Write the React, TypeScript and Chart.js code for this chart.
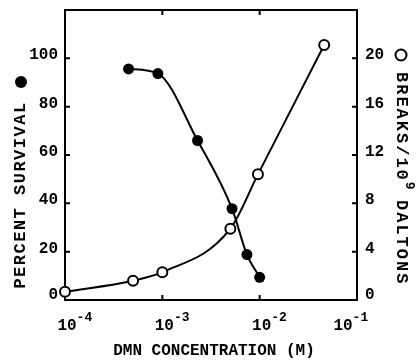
import { useEffect, useRef } from "react";
import { Chart, registerables } from "chart.js";

Chart.register(...registerables);

// DMN concentration (M) for the survival series (filled circles)
const concSurvival = [4.5e-4, 9.0e-4, 2.3e-3, 5.2e-3, 7.4e-3, 1.0e-2];
const survival = [95.6, 93.7, 66, 37.8, 18.8, 9.4];

// DMN concentration (M) for the breaks series (open circles)
const concBreaks = [1.0e-4, 5.0e-4, 1.0e-3, 5.0e-3, 9.6e-3, 4.6e-2];
const breaks = [0.68, 1.6, 2.3, 5.9, 10.4, 21.1];

const leftTicks = [0, 20, 40, 60, 80, 100];
const rightTicks = [0, 4, 8, 12, 16, 20];
const xTicks = [1e-4, 1e-3, 1e-2, 1e-1];
const xTickExponents = ["-4", "-3", "-2", "-1"];

const xTitle = "DMN CONCENTRATION (M)";
const leftTitle = "PERCENT SURVIVAL";
const rightTitleA = "BREAKS/10";
const rightTitleSup = "9";
const rightTitleB = "DALTONS";

const FONT = "'Liberation Mono', 'DejaVu Sans Mono', monospace";

export default function App() {
  const ref = useRef<HTMLCanvasElement>(null);

  useEffect(() => {
    const canvas = ref.current!;
    const paperAxes = {
      id: "paperAxes",
      beforeDatasetsDraw(chart: any) {
        const { ctx, chartArea: a } = chart;
        const sx = chart.scales.x;
        const yl = chart.scales.yL;
        const yr = chart.scales.yR;
        ctx.save();
        ctx.strokeStyle = "#000";
        ctx.fillStyle = "#000";
        ctx.lineWidth = 2;
        ctx.strokeRect(a.left, a.top, a.right - a.left, a.bottom - a.top);
        ctx.beginPath();
        leftTicks.forEach((v) => {
          if (v === 0) return;
          const py = yl.getPixelForValue(v);
          ctx.moveTo(a.left, py);
          ctx.lineTo(a.left + 5, py);
        });
        rightTicks.forEach((v) => {
          if (v === 0) return;
          const py = yr.getPixelForValue(v);
          ctx.moveTo(a.right, py);
          ctx.lineTo(a.right - 5, py);
        });
        xTicks.forEach((v, i) => {
          if (i === 0 || i === xTicks.length - 1) return;
          const px = sx.getPixelForValue(v);
          ctx.moveTo(px, a.bottom);
          ctx.lineTo(px, a.bottom - 5);
          ctx.moveTo(px, a.top);
          ctx.lineTo(px, a.top + 5);
        });
        ctx.stroke();

        // y tick labels
        ctx.font = `bold 16px ${FONT}`;
        ctx.textBaseline = "middle";
        ctx.textAlign = "right";
        leftTicks.forEach((v) => {
          const py = yl.getPixelForValue(v) - (v === 0 ? 5 : 3);
          ctx.fillText(String(v), a.left - 7, py);
        });
        ctx.textAlign = "left";
        rightTicks.forEach((v) => {
          const py = yr.getPixelForValue(v) - (v === 0 ? 5 : 3);
          ctx.fillText(String(v), a.right + 8, py);
        });

        // x tick labels 10^n
        xTicks.forEach((v, i) => {
          const px = sx.getPixelForValue(v);
          const cx = i === xTicks.length - 1 ? px - 14 : px + 2;
          ctx.font = `bold 16px ${FONT}`;
          ctx.textAlign = "center";
          ctx.textBaseline = "alphabetic";
          ctx.fillText("10", cx, a.bottom + 30);
          const w = ctx.measureText("10").width;
          ctx.font = `bold 13px ${FONT}`;
          ctx.textAlign = "left";
          ctx.fillText(xTickExponents[i], cx + w / 2, a.bottom + 21);
        });

        // x title
        ctx.font = `bold 16px ${FONT}`;
        ctx.textAlign = "center";
        ctx.textBaseline = "middle";
        ctx.fillText(xTitle, (a.left + a.right) / 2 + 3, a.bottom + 51);

        // left title
        ctx.save();
        ctx.translate(21, 195);
        ctx.rotate(-Math.PI / 2);
        ctx.font = `bold 17px ${FONT}`;
        (ctx as any).letterSpacing = "1.5px";
        ctx.textAlign = "center";
        ctx.textBaseline = "middle";
        ctx.fillText(leftTitle, 0, 0);
        ctx.restore();
        ctx.beginPath();
        ctx.arc(21, 82, 6, 0, Math.PI * 2);
        ctx.fill();

        // right title
        ctx.beginPath();
        ctx.arc(401, 55, 5.5, 0, Math.PI * 2);
        ctx.stroke();
        ctx.save();
        ctx.translate(401, 0);
        ctx.rotate(Math.PI / 2);
        ctx.font = `bold 17px ${FONT}`;
        (ctx as any).letterSpacing = "2px";
        ctx.textAlign = "left";
        ctx.textBaseline = "middle";
        ctx.fillText(rightTitleA, 72, 0);
        const wA = ctx.measureText(rightTitleA).width;
        ctx.font = `bold 13px ${FONT}`;
        ctx.fillText(rightTitleSup, 72 + wA, -8);
        ctx.font = `bold 17px ${FONT}`;
        ctx.fillText(rightTitleB, 200, 0);
        ctx.restore();

        ctx.restore();
      },
    };

    const chart = new Chart(canvas, {
      type: "scatter",
      data: {
        datasets: [
          {
            data: concSurvival.map((c, i) => ({ x: c, y: survival[i] })),
            xAxisID: "x",
            yAxisID: "yL",
            showLine: true,
            borderColor: "#000",
            borderWidth: 2,
            cubicInterpolationMode: "monotone",
            pointRadius: 5.5,
            pointBackgroundColor: "#000",
            pointBorderColor: "#000",
            pointBorderWidth: 0,
            clip: false,
          },
          {
            data: concBreaks.map((c, i) => ({ x: c, y: breaks[i] })),
            xAxisID: "x",
            yAxisID: "yR",
            showLine: true,
            borderColor: "#000",
            borderWidth: 2,
            cubicInterpolationMode: "monotone",
            pointRadius: 5,
            pointBackgroundColor: "#fff",
            pointBorderColor: "#000",
            pointBorderWidth: 2,
            clip: false,
          },
        ],
      },
      options: {
        responsive: false,
        animation: false,
        devicePixelRatio: 1,
        layout: { padding: { left: 65, right: 60, top: 10, bottom: 61 } },
        plugins: { legend: { display: false }, tooltip: { enabled: false } },
        scales: {
          x: { type: "logarithmic", min: 1e-4, max: 1e-1, display: false },
          yL: { type: "linear", position: "left", min: 0, max: 120, display: false },
          yR: { type: "linear", position: "right", min: 0, max: 24, display: false },
        },
      },
      plugins: [paperAxes],
    });
    return () => chart.destroy();
  }, []);

  return (
    <div style={{ position: "absolute", left: 0, top: 0, width: 417, height: 361, background: "#fff" }}>
      <canvas ref={ref} width={417} height={361} style={{ display: "block" }} />
    </div>
  );
}
